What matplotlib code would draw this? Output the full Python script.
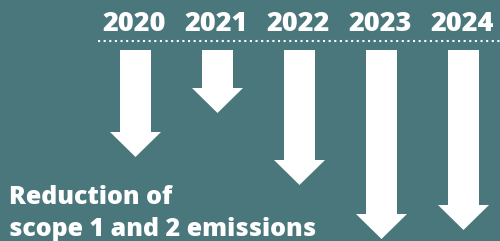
import matplotlib.pyplot as plt
from matplotlib.patches import FancyArrow

# data: years and length of each reduction arrow (chart units, top to tip)
years = ['2020', '2021', '2022', '2023', '2024']
reduction = [107, 63, 135, 189, 180]
caption = 'Reduction of\nscope 1 and 2 emissions'

bg = '#4a777c'
fg = 'white'

fig = plt.figure(figsize=(5, 2.41), dpi=100)
fig.patch.set_facecolor(bg)
ax = fig.add_axes([0, 0, 1, 1])
ax.set_facecolor(bg)
ax.set_xlim(0, 500)
ax.set_ylim(241, 0)
ax.axis('off')

x0 = 135.5  # centre of first column
step = 82
top = 50

for i, (yr, val) in enumerate(zip(years, reduction)):
    xc = x0 + i * step
    ax.text(xc - 1.5, 31, yr, ha='center', va='baseline', color=fg,
            fontsize=19.5, fontweight='heavy', family='Open Sans')
    ar = FancyArrow(xc, top, 0, val, width=31, head_width=51, head_length=25,
                    length_includes_head=True, color=fg, lw=0)
    ax.add_patch(ar)

# dotted rule under the years
ax.plot([98, 500], [41, 41], color=fg, lw=1.5, linestyle=(0, (1, 1.7)))

ax.text(9, 236.5, caption, ha='left', va='baseline', color=fg,
        fontsize=18, fontweight='heavy', family='Open Sans', linespacing=1.38)

fig.savefig('out.png', dpi=100, facecolor=bg)
